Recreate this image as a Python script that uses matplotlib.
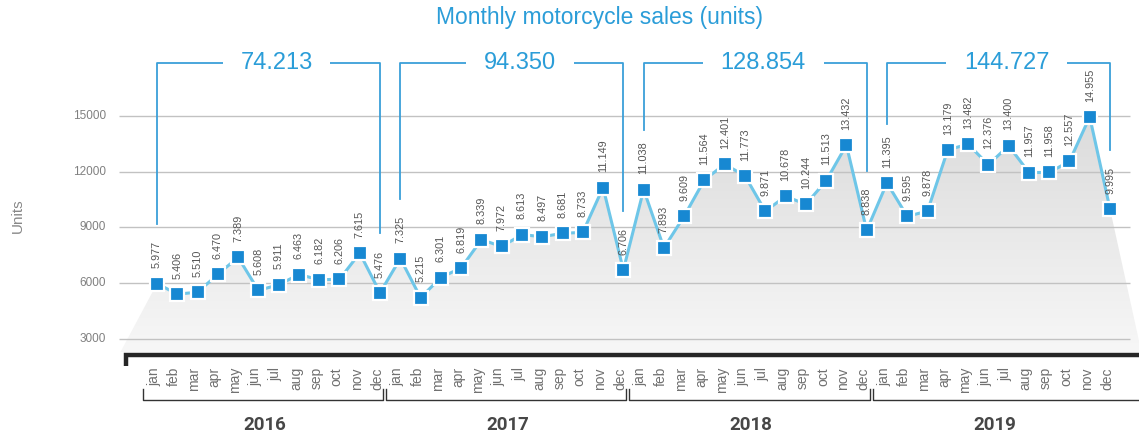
import numpy as np
import matplotlib.pyplot as plt
from matplotlib.colors import LinearSegmentedColormap
from matplotlib.patches import Polygon

plt.rcParams['font.family'] = ['Liberation Sans', 'DejaVu Sans']

# data
years = ['2016', '2017', '2018', '2019']
months = ['jan', 'feb', 'mar', 'apr', 'may', 'jun',
          'jul', 'aug', 'sep', 'oct', 'nov', 'dec']
sales_2016 = [5977, 5406, 5510, 6470, 7389, 5608, 5911, 6463, 6182, 6206, 7615, 5476]
sales_2017 = [7325, 5215, 6301, 6819, 8339, 7972, 8613, 8497, 8681, 8733, 11149, 6706]
sales_2018 = [11038, 7893, 9609, 11564, 12401, 11773, 9871, 10678, 10244, 11513, 13432, 8838]
sales_2019 = [11395, 9595, 9878, 13179, 13482, 12376, 13400, 11957, 11958, 12557, 14955, 9995]
yticks = [3000, 6000, 9000, 12000, 15000]

by_year = [sales_2016, sales_2017, sales_2018, sales_2019]
sales = np.array(sum(by_year, []))
x = np.arange(len(sales))


def fmt(v):
    return f"{v:,}".replace(',', '.')


fig = plt.figure(figsize=(11.39, 4.37), dpi=100)
ax = fig.add_axes([0, 0, 1, 1])
ax.axis('off')

blue = '#2b9dd8'
base = 2289

# shaded area under the line
verts = [(-1.8, base)] + list(zip(x, sales)) + [(48.55, base)]
poly = Polygon(verts, closed=True, fc='none', ec='none')
ax.add_patch(poly)
cmap = LinearSegmentedColormap.from_list('g', ['#f7f7f7', '#dadada'])
grad = np.linspace(0, 1, 256).reshape(-1, 1)
im = ax.imshow(grad, cmap=cmap, origin='lower', aspect='auto',
               extent=[-2, 49, base, 15500], zorder=1)
im.set_clip_path(poly)
ax.set_xlim(-7.743, 48.43)
ax.set_ylim(-2289, 21248)

# grid + y labels
ax.hlines(yticks, -1.87, 47.98, color='#c2c2c2', lw=1.0, zorder=2)
for t in yticks:
    ax.text(-2.52, t, str(t), ha='right', va='center', fontsize=8.5,
            color='#808080')
ax.text(-6.85, 9614, 'Units', rotation=90, ha='center', va='center',
        fontsize=11, color='#888888')

# line and markers
ax.plot(x, sales, color='#6ec6e8', lw=2.2, zorder=3)
ax.plot(x, sales, 's', ms=10.5, mfc='#1788d2', mec='white', mew=1.6, zorder=4)
for xi, v in zip(x, sales):
    ax.annotate(fmt(v), (xi, v), xytext=(0, 11), textcoords='offset points',
                rotation=90, ha='center', va='bottom', fontsize=7.8,
                color='#555555', zorder=5)

# yearly total brackets on top
top = 17838
for k, ys in enumerate(by_year):
    x0, x1 = 12 * k, 12 * k + 11
    ax.plot([x0, x0, x1, x1], [ys[0] + 3200, top, top, ys[-1] + 3200],
            color='#3a9fd9', lw=1.3, zorder=2)
    ax.text(x0 + 5.9, top, fmt(sum(ys)), ha='center', va='center',
            fontsize=17, color=blue, zorder=6,
            bbox=dict(boxstyle='square,pad=0.75', fc='white', ec='none'))

# x axis
ax.plot([-1.55, -1.55, 48.6], [1535, 2144, 2144], color='#262626', lw=3.2,
        solid_joinstyle='miter', solid_capstyle='butt', zorder=5)
for i in x:
    ax.text(i - 0.15, 1481, months[i % 12], rotation=90, ha='center', va='top',
            fontsize=10, color='#707070')

for k, yr in enumerate(years):
    x0 = 12 * k - 0.7
    x1 = 48.5 if k == len(years) - 1 else 12 * k + 11.15
    ax.plot([x0, x0, x1, x1], [296, -297, -297, 296], color='#333333', lw=1.0)
    ax.text(12 * k + 5.3, -1643, yr, ha='center', va='center', fontsize=13.5,
            fontweight='bold', color='#474747', family=['Roboto', 'DejaVu Sans'])

fig.text(0.526, 0.959, 'Monthly motorcycle sales (units)', ha='center',
         va='center', fontsize=16.5, color=blue)

fig.savefig('out.png', dpi=100)
